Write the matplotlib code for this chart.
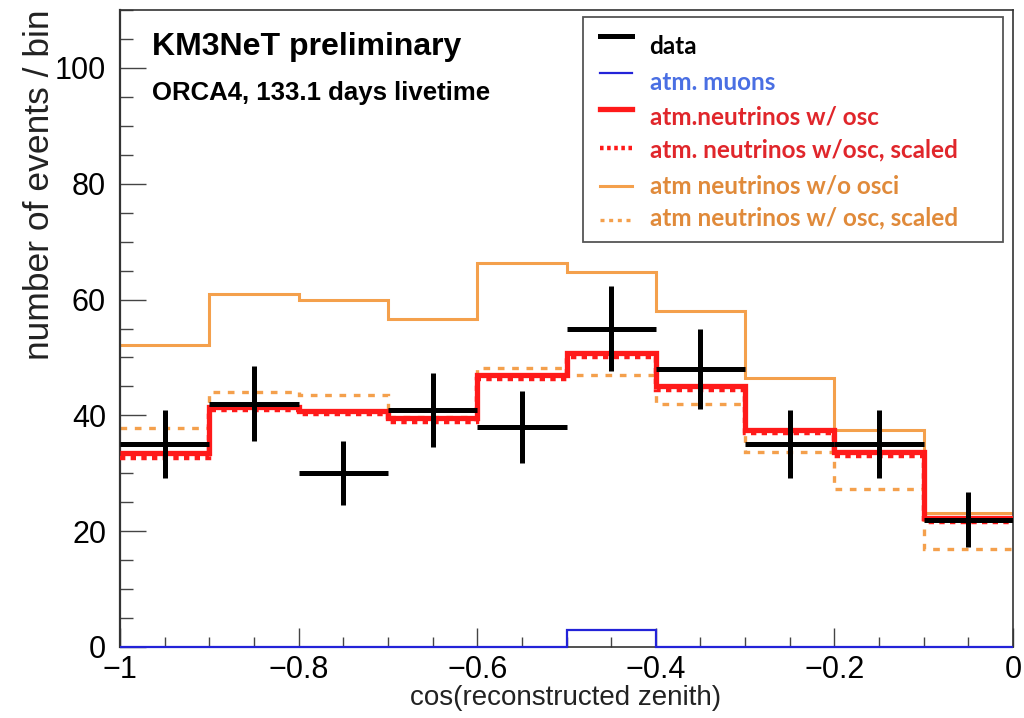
import matplotlib
matplotlib.use("Agg")
import matplotlib.pyplot as plt
from matplotlib.lines import Line2D
from matplotlib.patches import Rectangle
from matplotlib.ticker import MultipleLocator, FuncFormatter
import numpy as np

# bin edges of cos(reconstructed zenith)
edges = [-1.0, -0.9, -0.8, -0.7, -0.6, -0.5, -0.4, -0.3, -0.2, -0.1, 0.0]

# events per bin
data = [35, 42, 30, 41, 38, 55, 48, 35, 35, 22]
data_err = [5.9, 6.5, 5.5, 6.4, 6.2, 7.4, 6.9, 5.9, 5.9, 4.7]
muons = [0, 0, 0, 0, 0, 3, 0, 0, 0, 0]
nu_osc = [33.5, 41.5, 40.8, 39.6, 46.9, 50.8, 45.0, 37.5, 33.7, 22.3]
nu_osc_scaled = [32.6, 40.9, 40.2, 38.9, 46.3, 50.1, 44.3, 36.9, 33.0, 21.6]
nu_noosc = [52.2, 60.9, 60.0, 56.7, 66.3, 64.7, 58.1, 46.5, 37.4, 23.2]
nu_osc_scaled_or = [37.9, 44.1, 43.6, 39.8, 48.1, 46.9, 42.0, 33.7, 27.2, 17.0]

ORANGE = "#f4a04c"
RED = "#ff1a1a"
BLUE = "#2323d8"

plt.rcParams["font.family"] = ["Liberation Sans", "DejaVu Sans"]

fig = plt.figure(figsize=(10.24, 7.18), dpi=100)
ax = fig.add_axes([120 / 1024, 71 / 718, 893 / 1024, 637 / 718])

e = np.array(edges)
centers = 0.5 * (e[:-1] + e[1:])
half = 0.5 * np.diff(e)

ax.stairs(nu_noosc, edges, color=ORANGE, lw=2.2, baseline=None, zorder=2)
ax.stairs(nu_osc_scaled_or, edges, color=ORANGE, lw=2.4, ls=(0, (2.0, 2.3)),
          baseline=None, zorder=2)
ax.stairs(nu_osc_scaled, edges, color=RED, lw=3.2, ls=(0, (1.2, 1.2)),
          baseline=None, zorder=3)
ax.stairs(nu_osc, edges, color=RED, lw=3.8, baseline=None, zorder=3)
ax.stairs(muons, edges, color=BLUE, lw=1.6, baseline=None, zorder=4, clip_on=False)
ax.errorbar(centers, data, xerr=half, yerr=data_err, fmt="none", ecolor="black",
            elinewidth=3.6, capsize=0, zorder=5)


def tick_fmt(v, pos):
    v = round(v, 6)
    if v == 0:
        return "0"
    return f"{v:g}".replace("-", "\u2212")


ax.set_xlim(-1, 0)
ax.set_ylim(0, 110)
ax.xaxis.set_major_locator(MultipleLocator(0.2))
ax.xaxis.set_minor_locator(MultipleLocator(0.05))
ax.yaxis.set_major_locator(MultipleLocator(20))
ax.yaxis.set_minor_locator(MultipleLocator(5))
ax.xaxis.set_major_formatter(FuncFormatter(tick_fmt))
ax.yaxis.set_major_formatter(FuncFormatter(tick_fmt))
ax.tick_params(axis="both", which="both", direction="in", top=False, right=False,
               color="#444444", labelsize=22)
ax.tick_params(axis="y", which="major", length=19, width=1.0, pad=10)
ax.tick_params(axis="y", which="minor", length=9.5, width=1.0)
ax.tick_params(axis="x", which="major", length=14, width=1.0, pad=6)
ax.tick_params(axis="x", which="minor", length=7, width=1.0)
for s in ax.spines.values():
    s.set_color("#333333")
    s.set_linewidth(1.2)
ax.spines["left"].set_linewidth(1.6)

fig.text(40 / 1024, 1 - 10 / 718, "number of events / bin", rotation=90,
         ha="center", va="top", fontsize=25.5, color="#222222")
fig.text(566 / 1024, 1 - 698 / 718, "cos(reconstructed zenith)", ha="center",
         va="center", fontsize=20, color="#222222")

ax.text(32 / 893, (647 - 47) / 637, "KM3NeT preliminary",
        transform=ax.transAxes, ha="left", va="center", fontsize=23,
        fontweight="bold")
ax.text(32 / 893, (647 - 93) / 637, "ORCA4, 133.1 days livetime",
        transform=ax.transAxes, ha="left", va="center", fontsize=18.5,
        fontweight="bold")

# legend drawn by hand to match the ROOT box
ax.add_patch(Rectangle((0.518, 0.636), 0.471, 0.353, transform=ax.transAxes,
                       facecolor="white", edgecolor="#555555", lw=1.3, zorder=6))
labels = ["data", "atm. muons", "atm.neutrinos w/ osc",
          "atm. neutrinos w/osc, scaled", "atm neutrinos w/o osci",
          "atm neutrinos w/ osc, scaled"]
text_cols = ["black", "#4a6fe3", "#e0262b", "#e0262b", "#e08a3a", "#e08a3a"]
h_cols = ["black", BLUE, RED, RED, ORANGE, ORANGE]
h_lw = [3.6, 1.6, 3.8, 3.2, 2.2, 2.4]
h_ls = ["-", "-", "-", (0, (0.8, 0.8)), "-", (0, (1.2, 1.4))]
text_y = [47, 82, 117, 150, 186, 218]
hand_y = [36, 73, 109, 148, 186, 220]
for lab, tc, hc, lw, ls, ty, hy in zip(labels, text_cols, h_cols, h_lw, h_ls,
                                       text_y, hand_y):
    ax.add_line(Line2D([0.537, 0.573], [(647 - hy) / 637] * 2, color=hc, lw=lw,
                       ls=ls, transform=ax.transAxes, zorder=7))
    ax.text(0.593, (647 - ty) / 637, lab, transform=ax.transAxes, ha="left",
            va="center", fontsize=17.5, color=tc, family=["Lato", "DejaVu Sans"],
            fontweight="bold", zorder=7)

fig.savefig("out.png", dpi=100)
